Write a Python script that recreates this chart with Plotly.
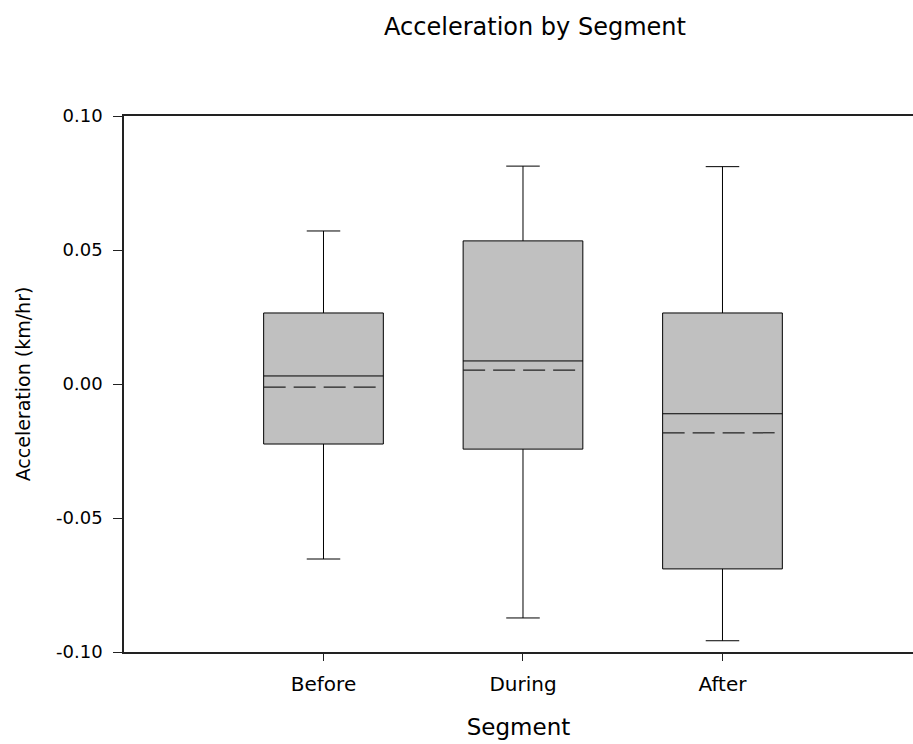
import plotly.graph_objects as go

segments = ["Before", "During", "After"]
positions = [0, 1, 2]
upper_whisker = [0.0571, 0.0813, 0.0811]
q3_values = [0.0265, 0.0534, 0.0265]
medians = [0.0030, 0.0086, -0.0111]
means = [-0.0012, 0.0052, -0.0182]
q1_values = [-0.0224, -0.0243, -0.0690]
lower_whisker = [-0.0653, -0.0873, -0.0958]

y_ticks = [-0.10, -0.05, 0.00, 0.05, 0.10]
y_tick_text = ["-0.10", "-0.05", "0.00", "0.05", "0.10"]

BOX_W = 0.6

fig = go.Figure()
fig.add_trace(go.Box(
    x=positions,
    q1=q1_values,
    median=medians,
    q3=q3_values,
    lowerfence=lower_whisker,
    upperfence=upper_whisker,
    boxmean=False,
    width=BOX_W,
    whiskerwidth=0.28,
    fillcolor="#c0c0c0",
    line=dict(color="black", width=1),
    boxpoints=False,
    hoverinfo="skip",
    showlegend=False,
))

# dashed mean lines across each box
for p, m in zip(positions, means):
    fig.add_trace(go.Scatter(
        x=[p - BOX_W / 2, p + BOX_W / 2], y=[m, m],
        mode="lines",
        line=dict(color="#222", width=1.2, dash="22px,8px"),
        hoverinfo="skip", showlegend=False,
    ))

font_family = "DejaVu Sans, Liberation Sans, Arial, sans-serif"
fig.update_layout(
    width=913, height=744,
    margin=dict(l=124, r=0, t=116, b=92),
    paper_bgcolor="white", plot_bgcolor="white",
    font=dict(family=font_family, color="black"),
    title=dict(text="Acceleration by Segment", x=0.586, xanchor="center",
               y=0.964, yanchor="middle", font=dict(size=24, family=font_family)),
    xaxis=dict(
        range=[-1.0, 2.955],
        tickvals=positions, ticktext=segments,
        showline=True, linecolor="#222", linewidth=1.5, mirror=True,
        ticks="outside", ticklen=7, tickcolor="#222", tickwidth=1.2,
        showgrid=False, zeroline=False,
        tickfont=dict(size=20),
        ticklabelstandoff=6,
        automargin=False,
        title=dict(text="Segment", font=dict(size=23), standoff=24),
    ),
    yaxis=dict(
        range=[-0.10, 0.10],
        tickvals=y_ticks, ticktext=y_tick_text,
        showline=True, linecolor="#222", linewidth=1.5,
        ticks="outside", ticklen=9, tickcolor="#222", tickwidth=1.2,
        showgrid=False, zeroline=False,
        tickfont=dict(size=18),
        ticklabelstandoff=7,
        automargin=False,
        title=dict(text="Acceleration (km/hr)", font=dict(size=19), standoff=20),
    ),
)

fig.write_html("out.html")
